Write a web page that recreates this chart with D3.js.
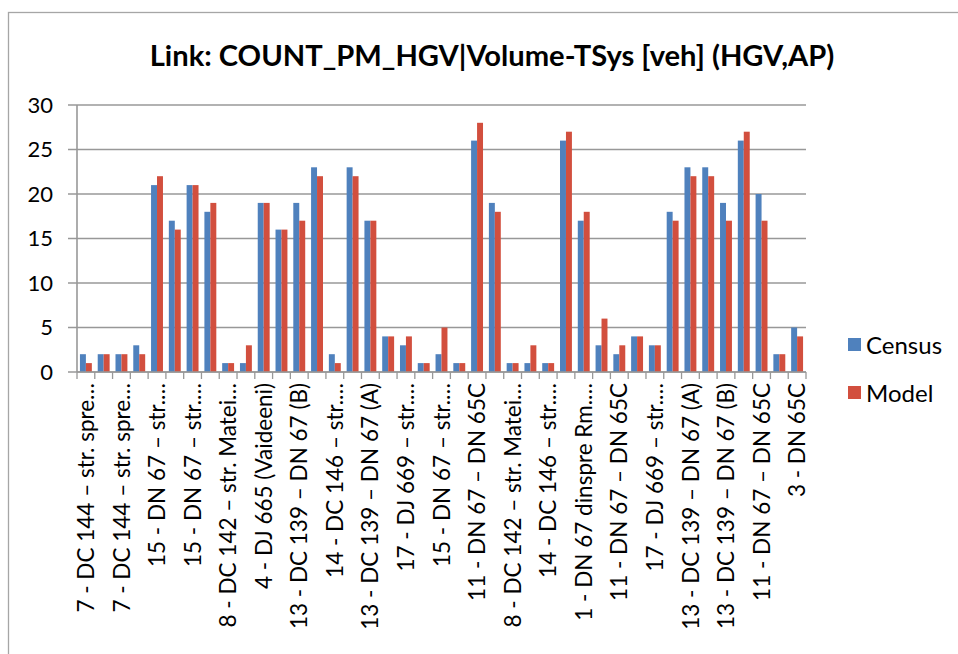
<!DOCTYPE html>
<html>
<head>
<meta charset="utf-8">
<script src="https://cdn.jsdelivr.net/npm/d3@7"></script>
<style>
  html, body { margin: 0; padding: 0; background: #fff; }
  svg { display: block; font-family: Lato, "Open Sans", sans-serif; }
</style>
</head>
<body>
<svg id="chart" width="958" height="654"></svg>
<script>
// Link counts: census vs. modelled HGV volumes (PM peak)
const title = "Link: COUNT_PM_HGV|Volume-TSys [veh] (HGV,AP)";
const seriesNames = ["Census", "Model"];
const seriesColors = ["#4F81BD", "#D24F3E"];

const census = [2, 2, 2, 3, 21, 17, 21, 18, 1, 1, 19, 16, 19, 23, 2, 23, 17, 4, 3, 1, 2,
                1, 26, 19, 1, 1, 1, 26, 17, 3, 2, 4, 3, 18, 23, 23, 19, 26, 20, 2, 5];
const model  = [1, 2, 2, 2, 22, 16, 21, 19, 1, 3, 19, 16, 17, 22, 1, 22, 17, 4, 4, 1, 5,
                1, 28, 18, 1, 3, 1, 27, 18, 6, 3, 4, 3, 17, 22, 22, 17, 27, 17, 2, 4];

// Axis labels, shown on every second link
const tickLabels = [
  "7 - DC 144 – str. spre…",
  "7 - DC 144 – str. spre…",
  "15 - DN 67 – str.…",
  "15 - DN 67 – str.…",
  "8 - DC 142 – str. Matei…",
  "4 - DJ 665 (Vaideeni)",
  "13 - DC 139 – DN 67 (B)",
  "14 - DC 146 – str.…",
  "13 - DC 139 – DN 67 (A)",
  "17 - DJ 669 – str.…",
  "15 - DN 67 – str.…",
  "11 - DN 67 – DN 65C",
  "8 - DC 142 – str. Matei…",
  "14 - DC 146 – str.…",
  "1 - DN 67 dinspre Rm.…",
  "11 - DN 67 – DN 65C",
  "17 - DJ 669 – str.…",
  "13 - DC 139 – DN 67 (A)",
  "13 - DC 139 – DN 67 (B)",
  "11 - DN 67 – DN 65C",
  "3 - DN 65C"
];
const yTicks = [0, 5, 10, 15, 20, 25, 30];

const svg = d3.select("#chart");
const plot = { left: 77, right: 806, top: 105, bottom: 372 };

// outer chart frame
svg.append("rect")
  .attr("x", 8.5).attr("y", 12.5)
  .attr("width", 1000).attr("height", 1000)
  .attr("fill", "none").attr("stroke", "#a6a6a6").attr("stroke-width", 1.3);

const idx = d3.range(census.length);
const x = d3.scaleBand().domain(idx).range([plot.left, plot.right])
  .paddingInner(0.33).paddingOuter(0.165);
const xs = d3.scaleBand().domain([0, 1]).range([0, x.bandwidth()]);
const y = d3.scaleLinear().domain([0, 30]).range([plot.bottom, plot.top]);

// gridlines
svg.append("g").selectAll("line").data(yTicks).join("line")
  .attr("x1", plot.left - 9).attr("x2", plot.right)
  .attr("y1", d => y(d)).attr("y2", d => y(d))
  .attr("stroke", "#989898").attr("stroke-width", 1.6);

// y tick labels
svg.append("g").selectAll("text").data(yTicks).join("text")
  .attr("x", 53).attr("y", d => y(d)).attr("dy", "0.35em")
  .attr("text-anchor", "end").attr("font-size", 22).attr("fill", "#000")
  .text(d => d);

// bars
const series = [census, model];
series.forEach((vals, s) => {
  svg.append("g").selectAll("rect").data(idx).join("rect")
    .attr("x", i => x(i) + xs(s))
    .attr("width", xs.bandwidth())
    .attr("y", i => y(vals[i]))
    .attr("height", i => y(0) - y(vals[i]))
    .attr("fill", seriesColors[s]);
});

// value axis line
svg.append("line")
  .attr("x1", plot.left).attr("x2", plot.left)
  .attr("y1", plot.top).attr("y2", plot.bottom)
  .attr("stroke", "#989898").attr("stroke-width", 1.6);

// category axis with a tick between each link
const step = x.step();
const bounds = d3.range(census.length + 1).map(k => plot.left + k * step);
svg.append("line")
  .attr("x1", plot.left).attr("x2", plot.right)
  .attr("y1", plot.bottom).attr("y2", plot.bottom)
  .attr("stroke", "#989898").attr("stroke-width", 1.6);
svg.append("g").selectAll("line").data(bounds).join("line")
  .attr("x1", d => d).attr("x2", d => d)
  .attr("y1", plot.bottom).attr("y2", plot.bottom + 7)
  .attr("stroke", "#989898").attr("stroke-width", 1.3);

// category labels
svg.append("g").selectAll("text").data(tickLabels).join("text")
  .attr("transform", (d, k) => {
    const cx = x(k * 2) + x.bandwidth() / 2;
    return `translate(${cx},${plot.bottom + 11}) rotate(-90)`;
  })
  .attr("dy", "0.36em")
  .attr("text-anchor", "end").attr("font-size", 22.5).attr("fill", "#000")
  .text(d => d);

// title
const t = svg.append("text")
  .attr("x", 492).attr("y", 66)
  .attr("text-anchor", "middle").attr("font-weight", "bold")
  .attr("font-size", 25).attr("fill", "#000")
  .text(title);
const tw = t.node().getComputedTextLength();
t.attr("font-size", 25 * 685 / tw);

// legend
const legend = svg.append("g").selectAll("g").data(seriesNames).join("g")
  .attr("transform", (d, k) => `translate(848,${338 + k * 48})`);
legend.append("rect").attr("width", 13).attr("height", 13)
  .attr("fill", (d, k) => seriesColors[k]);
legend.append("text").attr("x", 18).attr("y", 7).attr("dy", "0.36em")
  .attr("font-size", 24).attr("fill", "#000").text(d => d);
</script>
</body>
</html>
